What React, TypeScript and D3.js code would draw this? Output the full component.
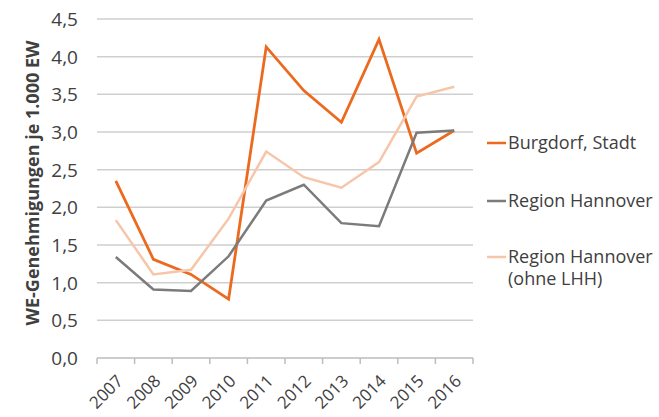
import React from "react";
import * as d3 from "d3";

const years = ["2007", "2008", "2009", "2010", "2011", "2012", "2013", "2014", "2015", "2016"];
const burgdorf = [2.35, 1.31, 1.11, 0.78, 4.13, 3.55, 3.13, 4.23, 2.72, 3.02];
const region = [1.34, 0.91, 0.89, 1.35, 2.09, 2.30, 1.79, 1.75, 2.99, 3.02];
const regionOhne = [1.83, 1.11, 1.17, 1.85, 2.74, 2.40, 2.26, 2.60, 3.47, 3.60];
const yTicks = [0, 0.5, 1, 1.5, 2, 2.5, 3, 3.5, 4, 4.5];
const seriesNames = ["Burgdorf, Stadt", "Region Hannover", "Region Hannover|(ohne LHH)"];
const seriesColors = ["#EC6A1F", "#7B7B7B", "#F7C6A9"];

export default function App() {
  const W = 659, H = 417;
  const left = 97, right = 473, top = 19, bottom = 358;
  const x = d3.scaleBand<string>().domain(years).range([left, right]).padding(0);
  const y = d3.scaleLinear().domain([0, 4.5]).range([bottom, top]);
  const line = d3.line<number>()
    .x((_, i) => (x(years[i]) as number) + x.bandwidth() / 2)
    .y((d) => y(d));
  const data = [burgdorf, region, regionOhne];
  const font = "'Open Sans', sans-serif";
  const fmt = (v: number) => v.toFixed(1).replace(".", ",");
  const legendY = [143, 201, 257];
  return (
    <svg width={W} height={H} style={{ position: "absolute", left: 0, top: 0, background: "#fff" }} fontFamily={font}>
      {yTicks.filter((t) => t > 0).map((t) => (
        <line key={t} x1={left} x2={right} y1={y(t)} y2={y(t)} stroke="#CFCFCF" strokeWidth={1.5} />
      ))}
      <line x1={left} x2={right} y1={bottom} y2={bottom} stroke="#BDBDBD" strokeWidth={1.5} />
      {years.concat(["end"]).map((yr, i) => {
        const xx = left + i * x.bandwidth();
        return <line key={yr} x1={xx} x2={xx} y1={bottom} y2={bottom + 6} stroke="#BDBDBD" strokeWidth={1.5} />;
      })}
      {yTicks.map((t) => (
        <text key={t} x={78} y={y(t)} dy="0.36em" textAnchor="end" fontSize={19} fill="#404040">{fmt(t)}</text>
      ))}
      {years.map((yr) => {
        const cx = (x(yr) as number) + x.bandwidth() / 2;
        return (
          <text key={yr} transform={`translate(${cx + 4},${bottom + 20}) rotate(-45)`} textAnchor="end" dy="0.35em" fontSize={17} fill="#404040">{yr}</text>
        );
      })}
      <text transform={`translate(39,183) rotate(-90)`} textAnchor="middle" fontSize={18} fontWeight="bold" fill="#404040">WE-Genehmigungen je 1.000 EW</text>
      {data.map((d, i) => (
        <path key={i} d={line(d) || ""} fill="none" stroke={seriesColors[i]} strokeWidth={i === 0 ? 2.8 : 2.5} strokeLinejoin="miter" />
      ))}
      {seriesNames.map((n, i) => {
        const parts = n.split("|");
        return (
          <g key={n}>
            <line x1={487} x2={506} y1={legendY[i]} y2={legendY[i]} stroke={seriesColors[i]} strokeWidth={2.5} />
            {parts.map((p, j) => (
              <text key={j} x={508} y={legendY[i] + j * 22} dy="0.35em" fontSize={18} fill="#404040">{p}</text>
            ))}
          </g>
        );
      })}
    </svg>
  );
}
